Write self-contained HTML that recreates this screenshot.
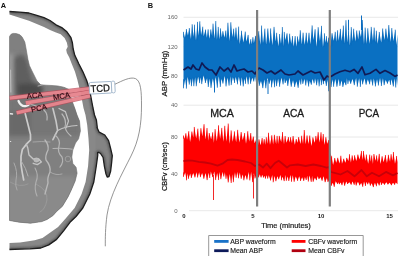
<!DOCTYPE html>
<html><head><meta charset="utf-8"><style>
html,body{margin:0;padding:0;background:#fff;width:400px;height:256px;overflow:hidden}
svg{display:block;will-change:transform}
text{font-family:"Liberation Sans",sans-serif}
</style></head><body>
<svg width="400" height="256" viewBox="0 0 400 256">
<rect width="400" height="256" fill="#fff"/>
<!-- ===== Panel A ===== -->
<text x="0.8" y="7.8" font-size="7.4" font-weight="bold" fill="#111">A</text>
<defs>
<clipPath id="bc"><path d="M9.5 36.5 L11.0 34.3 L13.0 33.4 L16.0 33.5 L19.5 34.6 L22.0 36.8 L24.8 42.0 L26.3 50.0 L27.9 59.3 L29.4 65.5 L32.0 71.0 L34.5 76.0 L37.0 81.0 L40.8 84.8 L46.0 85.2 L52.0 85.5 L58.0 86.0 L64.0 87.3 L69.0 89.5 L71.3 99.0 L74.7 108.0 L77.0 115.0 L79.5 121.0 L80.4 131.0 L78.6 138.8 L75.5 143.0 L72.8 150.0 L71.8 157.0 L72.8 163.4 L76.1 167.3 L77.1 173.2 L75.2 181.0 L71.3 190.0 L68.0 196.9 L62.4 206.3 L56.6 211.5 L53.0 215.6 L47.0 219.5 L41.8 221.6 L30.5 223.2 L19.2 222.2 L9.5 220.5 Z"/></clipPath>
<filter id="bl2" x="-20%" y="-20%" width="140%" height="140%"><feGaussianBlur stdDeviation="2"/></filter>
<filter id="bl1" x="-20%" y="-20%" width="140%" height="140%"><feGaussianBlur stdDeviation="0.9"/></filter>
<filter id="bl05" x="-20%" y="-20%" width="140%" height="140%"><feGaussianBlur stdDeviation="0.45"/></filter>
</defs>
<path d="M9.5 36.5 L11.0 34.3 L13.0 33.4 L16.0 33.5 L19.5 34.6 L22.0 36.8 L24.8 42.0 L26.3 50.0 L27.9 59.3 L29.4 65.5 L32.0 71.0 L34.5 76.0 L37.0 81.0 L40.8 84.8 L46.0 85.2 L52.0 85.5 L58.0 86.0 L64.0 87.3 L69.0 89.5 L71.3 99.0 L74.7 108.0 L77.0 115.0 L79.5 121.0 L80.4 131.0 L78.6 138.8 L75.5 143.0 L72.8 150.0 L71.8 157.0 L72.8 163.4 L76.1 167.3 L77.1 173.2 L75.2 181.0 L71.3 190.0 L68.0 196.9 L62.4 206.3 L56.6 211.5 L53.0 215.6 L47.0 219.5 L41.8 221.6 L30.5 223.2 L19.2 222.2 L9.5 220.5 Z" fill="#808080"/>
<g clip-path="url(#bc)">
 <g filter="url(#bl2)">
  <path d="M14 58 L22 54 L27 60 L30 72 L33 82 L36 90 L30 96 L20 97 L14 95 Z" fill="#5f5f5f"/>
  <path d="M18 84 L36 83 L44 88 L40 96 L18 97 Z" fill="#4c4c4c"/>
  <path d="M8 96 L40 100 L70 100 L80 112 L80 136 L8 136 Z" fill="#767676"/>
  <path d="M8 112 L30 112 L30 136 L8 136 Z" fill="#696969"/>
  <path d="M8 176 L75 176 L75 226 L8 226 Z" fill="#8a8a8a"/>
  <path d="M8 54 L12.5 54 L13 98 L8 98 Z" fill="#a0a0a0"/>
 </g>
 <g fill="none" stroke="#c4c4c4" stroke-linecap="round" stroke-linejoin="round" filter="url(#bl05)">
  <path d="M10.5 70 L10.8 92" stroke="#b8b8b8" stroke-width="1.2"/>
  <path d="M18.5 101 Q21 107 26 106 Q29 105 30 103" stroke="#f0f0f0" stroke-width="2.2"/>
  <path d="M38 86 Q46 83 55 84.5 Q62 86 68 88.5" stroke="#a8a8a8" stroke-width="1"/>
  <path d="M25 112.7 L27.8 123.7 L30.5 134.6 L30.5 140 L26.4 144.2 L22.3 149.6 L21 156.4 L21 164.6 L22.3 172.8 L23.7 180" stroke="#cccccc" stroke-width="1.7"/>
  <path d="M26.4 144.2 L27.8 148 L29 155 L33.2 159 L38.7 159 L41.4 162 L37.3 164.6 L33.2 163.3" stroke-width="1.4"/>
  <ellipse cx="36.5" cy="160" rx="2.6" ry="2" fill="#b8b8b8" stroke="#c4c4c4" stroke-width="0.8"/>
  <path d="M52.9 108.5 L56 121 L57.6 130.4 L52.9 139.7" stroke="#c8c8c8" stroke-width="1.6"/>
  <path d="M30 104 Q38 106 44 110 Q48 114 47 120" stroke="#b8b8b8" stroke-width="1.2"/>
  <path d="M59 108.5 L65.4 111.6 L68.5 121 L66 128" stroke-width="1.2"/>
  <path d="M57.6 130.4 Q66 126 77 125.5" stroke-width="1.1"/>
  <path d="M53 148.5 Q65 147.5 78 150" stroke="#b4b4b4" stroke-width="1.1"/>
  <path d="M33 142 Q42 141 50 142" stroke="#a8a8a8" stroke-width="0.9"/>
  <path d="M6 113 L12.5 114" stroke="#e8e8e8" stroke-width="1.5"/>
  <path d="M6 141 L10.7 141.5" stroke="#e0e0e0" stroke-width="1.2"/>
  <path d="M21.6 161.6 Q26 168 28 176" stroke="#b0b0b0" stroke-width="1"/>
  <path d="M36 184 Q48 190 47 200 Q45 210 40 212" stroke="#9c9c9c" stroke-width="0.9"/>
  <path d="M10 182 Q20 188 28 184" stroke="#9c9c9c" stroke-width="0.8"/>
  <circle cx="68" cy="159" r="2.8" stroke="#a6a6a6" stroke-width="0.8"/>
  <path d="M45 140 Q49 145 48 150 Q45 156 46 160 Q51 166 50 172 Q47 178 48 183 Q46 190 45 194" stroke="#bababa" stroke-width="1.3"/>
  <path d="M55 135 Q61 140 59 146 Q57 152 62 157 Q64 162 60 167" stroke="#b6b6b6" stroke-width="1.2"/>
  <path d="M35 168 Q39 175 36 182 Q34 189 37 196" stroke="#b0b0b0" stroke-width="1.1"/>
  <path d="M62 114 Q67 120 65 127 Q66 132 71 136" stroke="#b8b8b8" stroke-width="1.2"/>
  <path d="M14 163 Q18 172 16 180 Q15 186 17 190" stroke="#aaaaaa" stroke-width="1"/>
  <path d="M50 172 Q56 176 62 174" stroke="#ababab" stroke-width="0.9"/>
 </g>
</g>
<path d="M9.5 36.5 L11.0 34.3 L13.0 33.4 L16.0 33.5 L19.5 34.6 L22.0 36.8 L24.8 42.0 L26.3 50.0 L27.9 59.3 L29.4 65.5 L32.0 71.0 L34.5 76.0 L37.0 81.0 L40.8 84.8 L46.0 85.2 L52.0 85.5 L58.0 86.0 L64.0 87.3 L69.0 89.5 L71.3 99.0 L74.7 108.0 L77.0 115.0 L79.5 121.0 L80.4 131.0 L78.6 138.8 L75.5 143.0 L72.8 150.0 L71.8 157.0 L72.8 163.4 L76.1 167.3 L77.1 173.2 L75.2 181.0 L71.3 190.0 L68.0 196.9 L62.4 206.3 L56.6 211.5 L53.0 215.6 L47.0 219.5 L41.8 221.6 L30.5 223.2 L19.2 222.2 L9.5 220.5 Z" fill="none" stroke="#6e6e6e" stroke-width="0.6"/>
<clipPath id="sc"><path d="M9.5 11.5 L19.6 12.2 L29.0 13.0 L36.8 15.4 L44.0 17.7 L50.0 20.5 L56.0 24.8 L62.3 27.9 L66.9 31.8 L70.8 37.3 L72.4 42.8 L73.2 49.0 L74.8 55.3 L77.1 60.0 L78.8 63.8 L82.8 71.6 L86.5 80.0 L88.5 86.0 L90.0 92.0 L91.5 100.0 L93.0 108.0 L94.5 115.0 L96.4 120.0 L97.3 127.5 L98.0 135.0 L98.3 145.0 L97.8 155.0 L96.3 166.0 L93.8 182.0 L89.8 194.0 L82.8 208.0 L76.0 216.5 L70.0 222.3 L63.6 230.8 L56.6 239.4 L48.8 244.9 L40.9 248.0 L30.0 248.8 L20.0 249.2 L9.5 249.5 L9.5 243.0 L20.0 242.5 L30.0 241.0 L34.7 240.2 L42.5 237.9 L50.3 232.4 L58.1 226.9 L65.2 219.0 L74.6 208.0 L81.6 194.0 L85.6 182.0 L88.1 166.0 L89.2 150.0 L88.5 138.8 L87.2 125.0 L85.5 115.0 L83.5 108.0 L82.0 100.0 L80.5 92.0 L78.8 85.7 L77.3 79.4 L74.9 71.6 L71.7 63.8 L69.3 57.6 L66.9 52.9 L66.2 49.8 L67.7 46.7 L66.9 42.8 L64.6 38.0 L60.7 34.2 L56.0 32.6 L50.0 30.0 L44.0 27.1 L36.8 24.0 L29.0 20.8 L19.6 17.7 L9.5 14.6 Z"/><path d="M97.0 127.5 L99.2 132.2 L104.8 135.0 L108.6 140.6 L110.5 148.0 L112.3 155.6 L111.6 163.0 L110.6 171.3 L109.0 176.5 L107.2 177.0 L106.0 174.0 L104.4 166.3 L103.1 157.5 L100.5 153.5 L98.5 152.3 L97.6 152.6 L95.5 150.0 L95.5 130.0 Z"/></clipPath>
<path d="M9.5 11.5 L19.6 12.2 L29.0 13.0 L36.8 15.4 L44.0 17.7 L50.0 20.5 L56.0 24.8 L62.3 27.9 L66.9 31.8 L70.8 37.3 L72.4 42.8 L73.2 49.0 L74.8 55.3 L77.1 60.0 L78.8 63.8 L82.8 71.6 L86.5 80.0 L88.5 86.0 L90.0 92.0 L91.5 100.0 L93.0 108.0 L94.5 115.0 L96.4 120.0 L97.3 127.5 L98.0 135.0 L98.3 145.0 L97.8 155.0 L96.3 166.0 L93.8 182.0 L89.8 194.0 L82.8 208.0 L76.0 216.5 L70.0 222.3 L63.6 230.8 L56.6 239.4 L48.8 244.9 L40.9 248.0 L30.0 248.8 L20.0 249.2 L9.5 249.5 L9.5 243.0 L20.0 242.5 L30.0 241.0 L34.7 240.2 L42.5 237.9 L50.3 232.4 L58.1 226.9 L65.2 219.0 L74.6 208.0 L81.6 194.0 L85.6 182.0 L88.1 166.0 L89.2 150.0 L88.5 138.8 L87.2 125.0 L85.5 115.0 L83.5 108.0 L82.0 100.0 L80.5 92.0 L78.8 85.7 L77.3 79.4 L74.9 71.6 L71.7 63.8 L69.3 57.6 L66.9 52.9 L66.2 49.8 L67.7 46.7 L66.9 42.8 L64.6 38.0 L60.7 34.2 L56.0 32.6 L50.0 30.0 L44.0 27.1 L36.8 24.0 L29.0 20.8 L19.6 17.7 L9.5 14.6 Z" fill="#888"/>
<path d="M97.0 127.5 L99.2 132.2 L104.8 135.0 L108.6 140.6 L110.5 148.0 L112.3 155.6 L111.6 163.0 L110.6 171.3 L109.0 176.5 L107.2 177.0 L106.0 174.0 L104.4 166.3 L103.1 157.5 L100.5 153.5 L98.5 152.3 L97.6 152.6 L95.5 150.0 L95.5 130.0 Z" fill="#848484"/>
<g clip-path="url(#sc)"><path d="M9.5 11.5 L19.6 12.2 L29.0 13.0 L36.8 15.4 L44.0 17.7 L50.0 20.5 L56.0 24.8 L62.3 27.9 L66.9 31.8 L70.8 37.3 L72.4 42.8 L73.2 49.0 L74.8 55.3 L77.1 60.0 L78.8 63.8 L82.8 71.6 L86.5 80.0 L88.5 86.0 L90.0 92.0 L91.5 100.0 L93.0 108.0 L94.5 115.0 L96.4 120.0 L97.3 127.5 L97.0 127.5 L99.2 132.2 L104.8 135.0 L108.6 140.6 L110.5 148.0 L112.3 155.6 L111.6 163.0 L110.6 171.3 L109.0 176.5 L107.2 177.0 L106.0 174.0 L104.4 166.3 L103.1 157.5 L100.5 153.5 L98.5 152.3 L97.6 152.6 L97.6 152.6 L97.8 155.0 L96.3 166.0 L93.8 182.0 L89.8 194.0 L82.8 208.0 L76.0 216.5 L70.0 222.3 L63.6 230.8 L56.6 239.4 L48.8 244.9 L40.9 248.0 L30.0 248.8 L20.0 249.2 L9.5 249.5" fill="none" stroke="#5c5c5c" stroke-width="4" stroke-linejoin="round" filter="url(#bl1)"/></g>
<path d="M9.5 11.5 L19.6 12.2 L29.0 13.0 L36.8 15.4 L44.0 17.7 L50.0 20.5 L56.0 24.8 L62.3 27.9 L66.9 31.8 L70.8 37.3 L72.4 42.8 L73.2 49.0 L74.8 55.3 L77.1 60.0 L78.8 63.8 L82.8 71.6 L86.5 80.0 L88.5 86.0 L90.0 92.0 L91.5 100.0 L93.0 108.0 L94.5 115.0 L96.4 120.0 L97.3 127.5 L97.0 127.5 L99.2 132.2 L104.8 135.0 L108.6 140.6 L110.5 148.0 L112.3 155.6 L111.6 163.0 L110.6 171.3 L109.0 176.5 L107.2 177.0 L106.0 174.0 L104.4 166.3 L103.1 157.5 L100.5 153.5 L98.5 152.3 L97.6 152.6 L97.6 152.6 L97.8 155.0 L96.3 166.0 L93.8 182.0 L89.8 194.0 L82.8 208.0 L76.0 216.5 L70.0 222.3 L63.6 230.8 L56.6 239.4 L48.8 244.9 L40.9 248.0 L30.0 248.8 L20.0 249.2 L9.5 249.5" fill="none" stroke="#1e1e1e" stroke-width="1.3" stroke-linejoin="round"/>
<!-- beams -->
<g stroke-linecap="butt">
<line x1="9.7" y1="98.1" x2="90" y2="88.6" stroke="#b84a58" stroke-width="4.6" opacity="0.75"/>
<line x1="9.7" y1="98.1" x2="90" y2="88.6" stroke="#ee8d95" stroke-width="3.4" opacity="0.85"/>
<line x1="25.8" y1="103" x2="90" y2="92" stroke="#b84a58" stroke-width="4.6" opacity="0.75"/>
<line x1="25.8" y1="103" x2="90" y2="92" stroke="#ee8d95" stroke-width="3.4" opacity="0.85"/>
<line x1="16.6" y1="112.8" x2="90" y2="95.9" stroke="#b84a58" stroke-width="4.6" opacity="0.75"/>
<line x1="16.6" y1="112.8" x2="90" y2="95.9" stroke="#ee8d95" stroke-width="3.4" opacity="0.85"/>
</g>
<g font-size="7.8" fill="#2a0810" stroke="#2a0810" stroke-width="0.15">
<text transform="translate(27 99) rotate(-6.7)">ACA</text>
<text transform="translate(53.4 100.3) rotate(-9.7)">MCA</text>
<text transform="translate(31.8 112.6) rotate(-12.9)">PCA</text>
</g>
<!-- TCD probe -->
<g transform="rotate(-3 100 88)">
<rect x="89.3" y="82" width="22.5" height="11.6" rx="1.5" fill="#fff" stroke="#9db3c9" stroke-width="0.9"/>
<rect x="111.6" y="81.8" width="3.4" height="11.8" rx="1.5" fill="#fff" stroke="#9db3c9" stroke-width="0.9"/>
<text x="90.6" y="91.7" font-size="9.9" fill="#111" stroke="#111" stroke-width="0.3" textLength="19.2" lengthAdjust="spacingAndGlyphs">TCD</text>
</g>
<path d="M115 84.2 C122 81 130 76.5 135.5 78.6 C141 81 141.5 92 141.5 105 C141.5 125 139 140 131 156 C122 174 110 195 107 215 C105.3 228 105.3 238 105.3 246.3" fill="none" stroke="#7a7a7a" stroke-width="0.8"/>
<!-- ===== Panel B ===== -->
<text x="147.8" y="7.8" font-size="7.4" font-weight="bold" fill="#111">B</text>
<g stroke="#e2e2e2" stroke-width="0.8">
<line x1="183.5" y1="17.3" x2="398" y2="17.3"/>
<line x1="183.5" y1="46.7" x2="398" y2="46.7"/>
<line x1="183.5" y1="76" x2="398" y2="76"/>
<line x1="183.5" y1="105.2" x2="398" y2="105.2"/>
<line x1="183.5" y1="137" x2="398" y2="137"/>
<line x1="183.5" y1="173.7" x2="398" y2="173.7"/>
<line x1="189" y1="210.7" x2="398" y2="210.7"/>
</g>
<path d="M183.50 31.83 L184.92 37.53 L186.42 29.07 L187.94 35.38 L189.34 28.07 L190.96 38.92 L192.16 24.27 L193.59 36.79 L194.50 24.66 L195.98 40.21 L197.49 21.87 L198.45 35.72 L199.82 21.30 L201.07 35.09 L202.71 26.70 L203.67 36.31 L205.53 29.58 L206.89 37.65 L208.11 29.34 L209.32 38.87 L210.82 29.43 L212.10 36.12 L213.02 23.65 L214.66 38.40 L215.78 21.04 L216.92 39.67 L218.25 26.92 L219.26 39.37 L220.49 28.40 L221.83 37.28 L222.90 31.16 L224.45 37.61 L225.80 30.59 L226.82 38.68 L227.91 22.76 L229.65 40.98 L230.83 22.27 L232.37 36.91 L233.61 28.66 L234.81 37.67 L235.98 27.61 L237.29 40.73 L238.60 26.61 L239.66 43.92 L241.50 30.76 L243.39 42.52 L245.24 31.61 L246.36 41.61 L248.10 34.92 L249.52 44.77 L250.76 39.17 L251.73 44.31 L252.91 37.18 L253.86 43.18 L255.45 35.87 L257.25 41.04 L258.73 31.20 L260.37 44.66 L261.57 25.56 L263.00 43.00 L264.84 28.65 L266.08 44.40 L267.84 28.48 L269.52 43.66 L270.62 28.40 L272.34 45.15 L274.03 26.89 L275.73 41.42 L276.64 32.81 L278.40 46.32 L279.57 34.04 L281.00 43.72 L282.37 27.06 L283.28 46.30 L284.30 31.90 L285.27 39.98 L287.03 33.36 L288.43 44.86 L289.64 33.70 L291.19 43.76 L292.45 36.06 L293.68 46.42 L295.13 36.10 L296.42 46.75 L297.49 36.41 L299.00 42.58 L300.28 30.28 L301.80 44.44 L303.07 32.65 L304.68 44.84 L306.27 32.74 L307.42 43.80 L309.01 32.77 L310.34 44.24 L312.12 25.40 L313.39 40.04 L315.08 29.26 L316.44 46.63 L318.16 27.19 L319.95 41.01 L321.51 25.85 L322.98 46.98 L324.46 33.35 L325.51 42.84 L326.45 36.15 L327.45 43.24 L328.53 37.64 L330.27 46.13 L332.02 33.21 L333.75 40.86 L335.23 31.81 L336.17 41.78 L337.58 30.31 L338.59 40.77 L340.42 28.83 L341.64 40.89 L343.37 25.55 L344.45 43.56 L345.97 20.21 L347.26 42.61 L348.56 28.27 L349.88 45.42 L351.28 27.12 L352.59 40.91 L353.65 28.74 L355.31 41.53 L356.72 30.46 L358.27 39.59 L359.32 30.47 L360.96 36.99 L362.38 19.99 L364.00 44.09 L365.17 27.64 L366.65 43.74 L367.79 28.28 L369.64 43.77 L371.24 26.88 L373.00 40.87 L374.17 27.60 L375.09 42.03 L376.37 30.69 L377.63 43.80 L379.31 31.95 L381.20 42.47 L382.70 28.49 L384.43 39.96 L385.89 28.66 L387.51 39.32 L388.81 25.05 L390.67 41.93 L391.80 28.04 L393.42 40.98 L395.28 29.67 L396.42 44.90 L397.50 34.34 L397.50 85.94 L396.88 78.15 L395.74 87.48 L394.76 78.41 L393.29 86.43 L391.43 79.31 L390.46 84.84 L389.23 79.70 L387.43 83.65 L385.66 80.05 L384.11 85.17 L382.98 78.24 L381.40 86.04 L380.03 78.07 L378.42 85.51 L377.03 79.27 L375.42 86.41 L373.80 78.50 L372.63 85.52 L370.95 78.63 L369.64 84.31 L367.82 79.38 L366.08 84.70 L364.44 78.38 L362.61 84.36 L361.38 79.03 L360.36 86.88 L359.17 78.29 L357.32 86.68 L356.12 78.10 L354.28 85.18 L352.57 79.10 L350.70 83.80 L348.90 79.79 L347.95 83.94 L346.88 78.28 L345.95 85.21 L344.45 81.93 L342.87 86.91 L341.63 80.43 L339.91 85.92 L338.76 78.96 L336.93 86.73 L335.24 79.07 L333.61 86.77 L332.59 79.43 L331.07 87.08 L329.69 78.40 L328.57 91.28 L327.65 79.63 L326.34 85.92 L324.74 79.25 L323.39 84.19 L322.43 79.43 L321.36 85.15 L320.44 78.48 L319.13 86.36 L318.02 78.58 L316.66 85.27 L314.98 78.36 L314.08 83.34 L312.58 79.06 L311.31 84.69 L309.69 80.76 L308.61 86.54 L306.95 79.20 L305.75 85.46 L304.43 78.95 L302.83 83.88 L301.77 78.18 L300.79 84.51 L299.78 79.41 L298.12 87.86 L296.36 81.26 L294.65 86.99 L293.01 80.23 L291.19 86.73 L289.43 77.84 L287.83 85.91 L286.61 79.96 L285.17 83.01 L284.04 78.29 L283.09 84.38 L281.40 77.71 L279.60 86.78 L278.14 78.69 L276.59 86.18 L275.66 79.19 L274.56 87.25 L273.14 79.17 L271.58 87.33 L270.67 79.42 L269.17 83.76 L267.41 77.94 L265.83 88.26 L264.29 79.61 L262.84 88.15 L260.99 80.93 L259.29 85.87 L257.61 77.82 L256.50 85.84 L255.08 76.54 L253.78 81.46 L252.29 77.83 L250.57 83.81 L249.25 76.46 L248.17 84.35 L246.49 76.23 L245.49 83.82 L244.48 78.85 L243.22 86.38 L241.78 77.34 L240.55 85.59 L238.88 76.81 L237.48 84.35 L235.70 77.03 L234.54 83.00 L232.90 77.26 L231.24 85.10 L230.28 76.29 L229.06 85.67 L227.52 77.81 L226.02 86.42 L224.79 76.10 L222.95 83.60 L221.40 79.01 L220.32 86.89 L218.77 76.28 L217.31 87.73 L215.69 77.01 L214.30 85.18 L212.86 78.41 L211.00 87.88 L209.83 78.80 L208.28 87.00 L207.08 78.27 L205.41 83.04 L203.57 75.54 L201.76 84.12 L200.75 77.41 L199.57 83.11 L198.13 76.69 L196.27 86.27 L195.16 77.29 L193.83 86.23 L192.92 78.25 L191.44 86.23 L190.25 78.83 L189.26 84.60 L187.63 76.95 L186.41 88.63 L185.26 79.19 L183.50 88.31 Z" fill="#0a70c2"/>
<path d="M183.50 31.83V37.53 M186.42 29.07V37.53 M189.34 28.07V38.92 M192.16 24.27V38.92 M194.50 24.66V40.21 M197.49 21.87V40.21 M199.82 21.30V35.72 M202.71 26.70V36.31 M205.53 29.58V37.65 M208.11 29.34V38.87 M210.82 29.43V38.87 M213.02 23.65V38.40 M215.78 21.04V39.67 M218.25 26.92V39.67 M220.49 28.40V39.37 M222.90 31.16V37.61 M225.80 30.59V38.68 M227.91 22.76V40.98 M230.83 22.27V40.98 M233.61 28.66V37.67 M235.98 27.61V40.73 M238.60 26.61V43.92 M241.50 30.76V43.92 M245.24 31.61V42.52 M248.10 34.92V44.77 M250.76 39.17V44.77 M252.91 37.18V44.31 M255.45 35.87V43.18 M258.73 31.20V44.66 M261.57 25.56V44.66 M264.84 28.65V44.40 M267.84 28.48V44.40 M270.62 28.40V45.15 M274.03 26.89V45.15 M276.64 32.81V46.32 M279.57 34.04V46.32 M282.37 27.06V46.30 M284.30 31.90V46.30 M287.03 33.36V44.86 M289.64 33.70V44.86 M292.45 36.06V46.42 M295.13 36.10V46.75 M297.49 36.41V46.75 M300.28 30.28V44.44 M303.07 32.65V44.84 M306.27 32.74V44.84 M309.01 32.77V44.24 M312.12 25.40V44.24 M315.08 29.26V46.63 M318.16 27.19V46.63 M321.51 25.85V46.98 M324.46 33.35V46.98 M326.45 36.15V43.24 M328.53 37.64V46.13 M332.02 33.21V46.13 M335.23 31.81V41.78 M337.58 30.31V41.78 M340.42 28.83V40.89 M343.37 25.55V43.56 M345.97 20.21V43.56 M348.56 28.27V45.42 M351.28 27.12V45.42 M353.65 28.74V41.53 M356.72 30.46V41.53 M359.32 30.47V39.59 M362.38 19.99V44.09 M365.17 27.64V44.09 M367.79 28.28V43.77 M371.24 26.88V43.77 M374.17 27.60V42.03 M376.37 30.69V43.80 M379.31 31.95V43.80 M382.70 28.49V42.47 M385.89 28.66V39.96 M388.81 25.05V41.93 M391.80 28.04V41.93 M395.28 29.67V44.90 M183.50 88.31V79.19 M186.41 88.63V76.95 M189.26 84.60V76.95 M191.44 86.23V78.25 M193.83 86.23V77.29 M196.27 86.27V76.69 M199.57 83.11V76.69 M201.76 84.12V75.54 M205.41 83.04V75.54 M208.28 87.00V78.27 M211.00 87.88V78.41 M214.30 85.18V77.01 M217.31 87.73V76.28 M220.32 86.89V76.28 M222.95 83.60V76.10 M226.02 86.42V76.10 M229.06 85.67V76.29 M231.24 85.10V76.29 M234.54 83.00V77.03 M237.48 84.35V76.81 M240.55 85.59V76.81 M243.22 86.38V77.34 M245.49 83.82V76.23 M248.17 84.35V76.23 M250.57 83.81V76.46 M253.78 81.46V76.54 M256.50 85.84V76.54 M259.29 85.87V77.82 M262.84 88.15V79.61 M265.83 88.26V77.94 M269.17 83.76V77.94 M271.58 87.33V79.17 M274.56 87.25V79.17 M276.59 86.18V78.69 M279.60 86.78V77.71 M283.09 84.38V77.71 M285.17 83.01V78.29 M287.83 85.91V77.84 M291.19 86.73V77.84 M294.65 86.99V80.23 M298.12 87.86V79.41 M300.79 84.51V78.18 M302.83 83.88V78.18 M305.75 85.46V78.95 M308.61 86.54V79.20 M311.31 84.69V79.06 M314.08 83.34V78.36 M316.66 85.27V78.36 M319.13 86.36V78.48 M321.36 85.15V78.48 M323.39 84.19V79.25 M326.34 85.92V79.25 M328.57 91.28V78.40 M331.07 87.08V78.40 M333.61 86.77V79.07 M336.93 86.73V78.96 M339.91 85.92V78.96 M342.87 86.91V80.43 M345.95 85.21V78.28 M347.95 83.94V78.28 M350.70 83.80V79.10 M354.28 85.18V78.10 M357.32 86.68V78.10 M360.36 86.88V78.29 M362.61 84.36V78.38 M366.08 84.70V78.38 M369.64 84.31V78.63 M372.63 85.52V78.50 M375.42 86.41V78.50 M378.42 85.51V78.07 M381.40 86.04V78.07 M384.11 85.17V78.24 M387.43 83.65V79.70 M390.46 84.84V79.31 M393.29 86.43V78.41 M395.74 87.48V78.15" stroke="#0a68ba" stroke-width="0.75" fill="none"/>
<path d="M214.5 80V92.5 M268 80V94 M361.5 30V15.5 M348.5 30V19.8" stroke="#0a6cc0" stroke-width="1"/>
<polyline points="183.5,70.0 188.0,67.0 191.0,69.0 193.0,65.0 196.0,69.0 199.0,70.0 202.0,63.0 205.0,67.0 209.0,70.0 212.0,70.0 216.0,75.0 220.0,67.0 224.0,71.0 228.0,68.0 231.0,72.0 234.0,65.0 237.0,71.0 240.0,70.0 244.0,69.0 248.0,72.0 252.0,71.0 255.0,74.0 258.0,69.0 259.0,68.0 263.0,70.0 267.0,73.0 271.0,71.0 275.0,74.0 281.0,70.0 285.0,74.0 289.0,75.0 295.0,74.0 298.0,71.0 303.0,75.0 307.0,73.0 311.0,71.0 315.0,73.0 320.0,72.0 324.0,80.0 327.0,76.0 329.0,77.0 331.0,76.4 335.0,74.0 340.0,71.7 345.0,70.2 350.0,71.7 354.0,69.4 358.0,73.3 362.0,67.0 365.0,74.8 370.0,73.3 376.0,69.4 380.0,73.3 385.0,70.5 390.0,73.0 395.0,76.4 397.5,75.0" fill="none" stroke="#101a55" stroke-width="1.7" stroke-linejoin="round"/>
<path d="M183.50 135.52 L184.45 138.73 L185.88 133.30 L187.02 139.66 L188.75 131.19 L190.07 142.01 L191.88 131.53 L193.28 137.60 L194.31 126.95 L196.16 138.40 L197.85 128.65 L199.18 141.65 L200.92 128.21 L202.28 136.26 L204.03 124.17 L205.38 139.57 L207.01 127.98 L208.20 140.87 L209.25 133.02 L211.14 139.32 L212.67 132.33 L213.90 142.81 L215.08 129.13 L216.84 141.20 L218.53 125.34 L220.12 138.77 L221.78 127.92 L223.39 141.78 L224.77 125.81 L226.37 141.59 L228.21 123.56 L229.69 143.83 L231.14 130.38 L232.71 141.70 L234.43 131.38 L236.12 142.26 L237.67 129.84 L239.40 142.54 L241.14 132.06 L242.73 140.09 L244.58 133.07 L246.01 143.76 L247.75 131.23 L249.13 141.39 L250.75 133.05 L251.82 141.58 L253.30 136.61 L254.62 143.33 L256.30 139.43 L257.92 145.88 L258.98 139.35 L260.53 145.33 L262.11 138.00 L263.05 144.43 L264.18 139.12 L265.21 144.84 L266.30 137.19 L267.23 143.80 L268.51 132.77 L270.00 144.69 L271.80 135.24 L273.11 144.46 L274.42 134.81 L276.15 144.29 L277.09 135.89 L278.08 143.88 L279.32 135.87 L281.18 141.91 L282.50 132.08 L284.04 144.27 L285.08 135.97 L286.55 142.70 L288.42 137.05 L289.67 142.38 L290.57 137.19 L292.03 143.34 L293.07 135.99 L294.87 144.74 L296.20 139.04 L297.39 142.83 L298.67 137.08 L300.48 144.08 L301.64 135.71 L303.04 144.00 L304.26 130.04 L305.65 144.32 L307.03 135.43 L308.55 144.11 L309.74 135.54 L311.47 145.95 L312.90 137.41 L314.74 142.82 L315.88 135.94 L316.94 140.84 L318.13 132.16 L319.50 142.41 L321.01 132.27 L322.03 142.07 L323.23 133.98 L324.46 144.64 L325.89 137.21 L327.15 143.65 L328.64 140.05 L329.80 152.17 L331.61 156.44 L333.06 164.92 L334.74 157.97 L336.21 162.86 L337.75 157.76 L339.56 163.61 L340.85 155.73 L341.95 163.83 L343.68 158.72 L345.41 162.84 L346.74 157.87 L348.42 161.08 L349.47 154.21 L350.92 162.43 L352.15 155.40 L353.63 161.15 L354.60 155.34 L356.32 160.92 L357.88 154.58 L359.51 159.38 L361.41 150.93 L362.35 160.01 L363.47 150.99 L365.33 160.94 L366.36 154.54 L368.18 163.82 L369.69 154.61 L370.75 161.70 L371.69 155.47 L372.97 164.05 L373.93 154.01 L375.57 160.85 L376.61 155.41 L377.82 162.00 L379.21 153.86 L380.49 164.04 L382.08 156.26 L383.61 162.27 L385.43 155.02 L386.95 163.12 L388.40 154.84 L390.05 161.71 L391.08 154.24 L392.35 160.66 L393.43 151.97 L394.99 163.64 L396.56 155.98 L397.50 161.95 L397.50 184.21 L395.76 182.50 L394.65 184.75 L393.01 182.82 L391.42 185.23 L389.57 182.67 L387.91 184.39 L386.30 182.16 L384.47 184.66 L382.85 182.71 L381.37 184.91 L380.39 181.85 L379.20 185.43 L377.62 182.58 L376.36 186.29 L374.92 182.82 L373.33 187.13 L371.62 183.22 L370.32 185.65 L368.94 182.07 L367.73 184.31 L366.51 182.11 L365.43 185.98 L364.01 181.52 L362.74 186.83 L361.21 182.95 L359.63 185.31 L357.94 181.72 L356.13 185.53 L355.14 181.60 L354.20 184.83 L352.47 181.51 L351.17 184.64 L349.42 182.22 L347.53 184.01 L346.28 181.58 L344.63 185.74 L343.17 181.58 L341.99 185.23 L340.70 182.42 L339.32 184.20 L338.38 182.17 L337.43 184.05 L335.72 181.23 L334.22 186.87 L332.79 182.84 L331.12 185.88 L329.79 179.02 L327.97 182.02 L326.95 177.94 L325.12 182.20 L323.51 176.27 L322.08 180.75 L320.45 177.32 L318.96 179.08 L317.73 176.28 L316.40 180.14 L314.89 177.84 L313.13 181.77 L312.10 175.65 L311.18 181.89 L309.51 175.59 L308.33 181.58 L307.16 175.75 L306.20 180.00 L304.92 176.97 L303.75 180.89 L302.12 177.14 L300.56 181.03 L299.22 176.30 L297.56 180.85 L295.77 176.45 L294.11 181.80 L292.79 175.26 L291.52 181.79 L290.42 175.05 L288.82 181.01 L287.67 176.50 L286.34 180.82 L285.20 174.99 L284.17 181.14 L282.45 176.67 L281.46 180.30 L280.45 175.10 L278.72 179.27 L277.51 176.33 L275.89 181.21 L274.61 176.09 L273.22 182.28 L272.31 175.01 L270.55 180.48 L268.73 175.31 L267.72 178.63 L266.74 175.19 L265.43 178.64 L264.36 175.78 L263.42 177.61 L262.21 174.78 L261.06 177.51 L259.76 174.13 L258.62 177.38 L256.78 173.87 L254.98 178.48 L253.99 173.11 L252.57 182.16 L251.12 172.07 L249.81 180.42 L248.85 171.92 L246.97 179.56 L245.43 175.07 L243.86 180.34 L242.79 174.39 L241.16 178.82 L239.79 172.52 L238.53 178.30 L237.23 171.93 L236.10 177.75 L234.99 172.27 L233.37 182.21 L232.17 174.17 L231.16 183.00 L229.78 174.07 L228.20 182.42 L226.93 174.55 L226.00 178.84 L224.86 172.25 L223.80 176.55 L222.64 171.88 L220.86 179.19 L219.59 172.09 L218.54 180.07 L217.17 173.02 L215.65 180.05 L214.28 171.43 L212.62 177.15 L210.83 171.49 L209.73 178.03 L208.73 172.68 L207.09 180.14 L205.60 172.91 L203.85 178.72 L202.14 173.11 L200.41 177.18 L199.13 172.13 L197.61 177.51 L196.48 172.14 L194.95 177.40 L193.23 173.07 L191.36 177.97 L190.24 173.38 L188.38 178.87 L187.43 173.53 L186.50 180.31 L185.28 172.39 L183.50 176.85 Z" fill="#ff0000"/>
<path d="M183.50 135.52V138.73 M185.88 133.30V139.66 M188.75 131.19V142.01 M191.88 131.53V142.01 M194.31 126.95V138.40 M197.85 128.65V141.65 M200.92 128.21V141.65 M204.03 124.17V139.57 M207.01 127.98V140.87 M209.25 133.02V140.87 M212.67 132.33V142.81 M215.08 129.13V142.81 M218.53 125.34V141.20 M221.78 127.92V141.78 M224.77 125.81V141.78 M228.21 123.56V143.83 M231.14 130.38V143.83 M234.43 131.38V142.26 M237.67 129.84V142.54 M241.14 132.06V142.54 M244.58 133.07V143.76 M247.75 131.23V143.76 M250.75 133.05V141.58 M253.30 136.61V143.33 M256.30 139.43V145.88 M258.98 139.35V145.88 M262.11 138.00V145.33 M264.18 139.12V144.84 M266.30 137.19V144.84 M268.51 132.77V144.69 M271.80 135.24V144.69 M274.42 134.81V144.46 M277.09 135.89V144.29 M279.32 135.87V143.88 M282.50 132.08V144.27 M285.08 135.97V144.27 M288.42 137.05V142.70 M290.57 137.19V143.34 M293.07 135.99V144.74 M296.20 139.04V144.74 M298.67 137.08V144.08 M301.64 135.71V144.08 M304.26 130.04V144.32 M307.03 135.43V144.32 M309.74 135.54V145.95 M312.90 137.41V145.95 M315.88 135.94V142.82 M318.13 132.16V142.41 M321.01 132.27V142.41 M323.23 133.98V144.64 M325.89 137.21V144.64 M328.64 140.05V152.17 M331.61 156.44V164.92 M334.74 157.97V164.92 M337.75 157.76V163.61 M340.85 155.73V163.83 M343.68 158.72V163.83 M346.74 157.87V162.84 M349.47 154.21V162.43 M352.15 155.40V162.43 M354.60 155.34V161.15 M357.88 154.58V160.92 M361.41 150.93V160.01 M363.47 150.99V160.94 M366.36 154.54V163.82 M369.69 154.61V163.82 M371.69 155.47V164.05 M373.93 154.01V164.05 M376.61 155.41V162.00 M379.21 153.86V164.04 M382.08 156.26V164.04 M385.43 155.02V163.12 M388.40 154.84V163.12 M391.08 154.24V161.71 M393.43 151.97V163.64 M396.56 155.98V163.64 M183.50 176.85V172.39 M186.50 180.31V172.39 M188.38 178.87V173.38 M191.36 177.97V173.07 M194.95 177.40V172.14 M197.61 177.51V172.13 M200.41 177.18V172.13 M203.85 178.72V172.91 M207.09 180.14V172.68 M209.73 178.03V171.49 M212.62 177.15V171.43 M215.65 180.05V171.43 M218.54 180.07V172.09 M220.86 179.19V171.88 M223.80 176.55V171.88 M226.00 178.84V172.25 M228.20 182.42V174.07 M231.16 183.00V174.07 M233.37 182.21V172.27 M236.10 177.75V171.93 M238.53 178.30V171.93 M241.16 178.82V172.52 M243.86 180.34V174.39 M246.97 179.56V171.92 M249.81 180.42V171.92 M252.57 182.16V172.07 M254.98 178.48V173.11 M258.62 177.38V173.87 M261.06 177.51V174.13 M263.42 177.61V174.78 M265.43 178.64V175.19 M267.72 178.63V175.19 M270.55 180.48V175.01 M273.22 182.28V175.01 M275.89 181.21V176.09 M278.72 179.27V175.10 M281.46 180.30V175.10 M284.17 181.14V174.99 M286.34 180.82V174.99 M288.82 181.01V175.05 M291.52 181.79V175.05 M294.11 181.80V175.26 M297.56 180.85V176.30 M300.56 181.03V176.30 M303.75 180.89V176.97 M306.20 180.00V175.75 M308.33 181.58V175.59 M311.18 181.89V175.59 M313.13 181.77V175.65 M316.40 180.14V176.28 M318.96 179.08V176.28 M322.08 180.75V176.27 M325.12 182.20V176.27 M327.97 182.02V177.94 M331.12 185.88V179.02 M334.22 186.87V181.23 M337.43 184.05V181.23 M339.32 184.20V182.17 M341.99 185.23V181.58 M344.63 185.74V181.58 M347.53 184.01V181.58 M351.17 184.64V181.51 M354.20 184.83V181.51 M356.13 185.53V181.60 M359.63 185.31V181.72 M362.74 186.83V181.52 M365.43 185.98V181.52 M367.73 184.31V182.07 M370.32 185.65V182.07 M373.33 187.13V182.82 M376.36 186.29V182.58 M379.20 185.43V181.85 M381.37 184.91V181.85 M384.47 184.66V182.16 M387.91 184.39V182.16 M391.42 185.23V182.67 M394.65 184.75V182.50" stroke="#f80000" stroke-width="0.75" fill="none"/>
<path d="M213.5 175V200 M253.5 175V198.5" stroke="#f01010" stroke-width="0.9"/>
<polyline points="183.5,161.0 188.0,160.5 192.5,160.6 198.8,161.9 205.0,162.5 211.0,163.7 217.5,165.6 222.5,163.7 227.5,160.0 232.0,159.5 237.5,160.0 245.0,161.5 251.0,163.0 255.0,166.0 259.2,164.5 263.0,167.5 266.7,163.7 270.5,168.2 275.0,163.0 278.7,160.7 282.5,163.7 287.0,167.5 290.0,165.3 297.8,164.5 305.6,166.0 313.4,164.5 321.0,166.0 326.7,167.7 329.0,167.0 331.0,172.0 333.5,172.7 340.5,174.5 347.5,171.0 354.5,176.3 361.5,170.0 366.8,176.3 372.0,172.7 379.0,176.3 386.0,171.9 393.0,175.4 397.5,173.0" fill="none" stroke="#c80008" stroke-width="1.8" stroke-linejoin="round"/>
<g fill="#7f7f7f">
<rect x="256" y="10" width="2.2" height="196.5"/>
<rect x="328.7" y="10" width="2.2" height="196.5"/>
</g>
<g font-size="6" fill="#666" text-anchor="end">
<text x="177.6" y="19.4">160</text>
<text x="177.6" y="48.9">120</text>
<text x="177.6" y="78.4">80</text>
<text x="177.6" y="107">40</text>
<text x="177.6" y="139">80</text>
<text x="177.6" y="175.5">40</text>
<text x="177.6" y="212.6">0</text>
</g>
<g font-size="6" fill="#222" text-anchor="middle" font-weight="bold">
<text x="184" y="217.8">0</text>
<text x="253" y="217.8">5</text>
<text x="321" y="217.8">10</text>
<text x="389.6" y="217.8">15</text>
</g>
<text x="286" y="228.3" font-size="7.5" fill="#222" stroke="#222" stroke-width="0.2" text-anchor="middle">Time (minutes)</text>
<text transform="translate(167.3 73.5) rotate(-90)" font-size="7.8" fill="#111" stroke="#111" stroke-width="0.2" text-anchor="middle">ABP (mmHg)</text>
<text transform="translate(167.3 166.6) rotate(-90)" font-size="7.4" fill="#111" stroke="#111" stroke-width="0.2" text-anchor="middle">CBFv (cm/sec)</text>
<g font-size="10.8" fill="#1a1a1a" stroke="#1a1a1a" stroke-width="0.3" text-anchor="middle">
<text x="222" y="117.1" textLength="23.6" lengthAdjust="spacingAndGlyphs">MCA</text>
<text x="293.6" y="117.1" textLength="20.9" lengthAdjust="spacingAndGlyphs">ACA</text>
<text x="368.9" y="117.1" textLength="20.3" lengthAdjust="spacingAndGlyphs">PCA</text>
</g>
<!-- legend -->
<path d="M208.7 256 V235.5 H363.2 V256" fill="none" stroke="#8c8c8c" stroke-width="0.9"/>
<rect x="214.2" y="240" width="14.4" height="2.8" fill="#1a72c8"/>
<rect x="214.2" y="249.3" width="14.4" height="2.8" fill="#0d1a5a"/>
<rect x="291.7" y="240" width="13.8" height="2.8" fill="#ff0000"/>
<rect x="291.7" y="249.3" width="13.8" height="2.8" fill="#b00010"/>
<g font-size="6.9" fill="#222" stroke="#222" stroke-width="0.15">
<text x="230.2" y="244">ABP waveform</text>
<text x="230.2" y="253.4">Mean ABP</text>
<text x="308.2" y="244">CBFv waveform</text>
<text x="308.2" y="253.4">Mean CBFv</text>
</g>
</svg>
</body></html>
